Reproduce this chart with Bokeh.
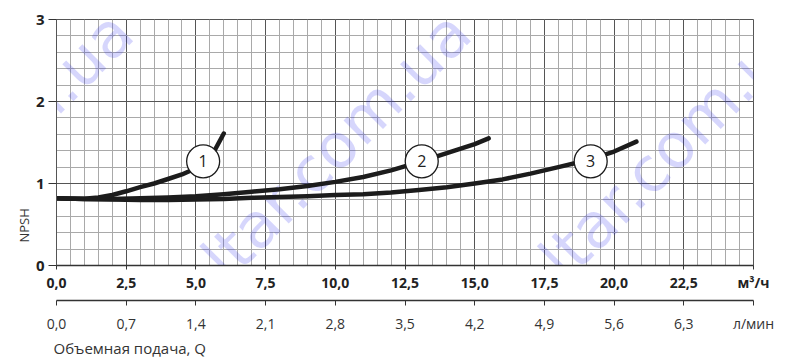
from bokeh.plotting import figure
from bokeh.models import Range1d, LinearAxis, FixedTicker, Label, Title
from bokeh.core.properties import value
from bokeh.embed import file_html
from bokeh.resources import INLINE
import numpy as np

# NPSH (m) against volume flow Q (m³/h) for the three pump sizes
q1 = [0, 0.5, 1, 1.5, 2, 2.5, 3, 3.5, 4, 4.5, 4.8, 5.3, 5.7, 6.0]
npsh1 = [0.82, 0.815, 0.815, 0.83, 0.86, 0.905, 0.955, 1.0, 1.055, 1.11,
         1.155, 1.26, 1.42, 1.61]

q2 = [0, 1, 2, 3, 4, 5, 6, 7, 8, 9, 10, 11, 12, 13, 14, 15, 15.5]
npsh2 = [0.82, 0.81, 0.81, 0.82, 0.83, 0.845, 0.87, 0.90, 0.93, 0.97,
         1.02, 1.08, 1.16, 1.26, 1.37, 1.48, 1.55]

q3 = [0, 1, 2, 3, 4, 5, 6, 7, 8, 9, 10, 11, 12, 13, 14, 15, 16, 17, 18,
      19, 20, 20.8]
npsh3 = [0.82, 0.81, 0.805, 0.80, 0.80, 0.805, 0.81, 0.825, 0.835, 0.845,
         0.86, 0.87, 0.89, 0.92, 0.955, 1.0, 1.05, 1.12, 1.20, 1.28, 1.39,
         1.51]

# numbered curve tags
curve_ids = ["1", "2", "3"]
tag_q = [5.26, 13.1, 19.16]
tag_npsh = [1.27, 1.27, 1.27]

# axis ticks and their labels
flow_ticks = [0, 2.5, 5.0, 7.5, 10.0, 12.5, 15.0, 17.5, 20.0, 22.5, 25.0]
flow_labels = ["0,0", "2,5", "5,0", "7,5", "10,0", "12,5", "15,0", "17,5",
               "20,0", "22,5", "м³/ч"]
lpm_ticks = [0, 0.7, 1.4, 2.1, 2.8, 3.5, 4.2, 4.9, 5.6, 6.3, 7.0]
lpm_labels = ["0,0", "0,7", "1,4", "2,1", "2,8", "3,5", "4,2", "4,9", "5,6",
              "6,3", "л/мин"]
npsh_ticks = [0, 1, 2, 3]
npsh_labels = ["0", "1", "2", "3"]

FONT = "Open Sans"
INK = "#1c1c1c"

p = figure(width=791, height=357, output_backend="svg", toolbar_location=None,
           x_range=Range1d(0, 25), y_range=Range1d(0, 3),
           min_border_left=56, min_border_right=38, min_border_top=19,
           min_border_bottom=91, background_fill_color="white",
           border_fill_color="white")
p.outline_line_color = "#555555"
p.outline_line_width = 1

# main flow axis (m³/h)
xa = p.xaxis[0]
xa.ticker = FixedTicker(ticks=flow_ticks,
                        minor_ticks=list(np.arange(0, 25.01, 0.5)))
xa.major_label_overrides = dict(zip(flow_ticks, flow_labels))
xa.major_label_text_font = FONT
xa.major_label_text_font_style = "bold"
xa.major_label_text_font_size = "14px"
xa.major_label_text_color = "#222222"
xa.major_label_standoff = 3
xa.major_tick_in = 0
xa.major_tick_out = 4
xa.minor_tick_line_color = None
xa.axis_line_color = "#333333"
xa.axis_line_width = 1.5
xa.major_tick_line_color = "#333333"
xa.axis_label = " "
xa.axis_label_text_font_size = "3px"
xa.axis_label_standoff = 0

# secondary flow axis (л/мин)
p.extra_x_ranges = {"lpm": Range1d(0, 7)}
xb = LinearAxis(x_range_name="lpm",
                ticker=FixedTicker(ticks=lpm_ticks))
xb.major_label_overrides = dict(zip(lpm_ticks, lpm_labels))
xb.major_label_text_font = FONT
xb.major_label_text_font_size = "14px"
xb.major_label_text_color = "#333333"
xb.major_label_standoff = 8
xb.major_tick_in = 0
xb.major_tick_out = 5
xb.minor_tick_line_color = None
xb.axis_line_color = "#333333"
xb.axis_line_width = 1.5
xb.major_tick_line_color = "#333333"
p.add_layout(xb, "below")

# NPSH axis
ya = p.yaxis[0]
ya.ticker = FixedTicker(ticks=npsh_ticks,
                        minor_ticks=list(np.arange(0, 3.01, 0.2)))
ya.major_label_overrides = dict(zip(npsh_ticks, npsh_labels))
ya.major_label_text_font = FONT
ya.major_label_text_font_style = "bold"
ya.major_label_text_font_size = "15px"
ya.major_label_text_color = "#222222"
ya.major_label_standoff = 4
ya.major_tick_in = 0
ya.major_tick_out = 8
ya.minor_tick_line_color = None
ya.axis_line_color = "#555555"
ya.major_tick_line_color = "#333333"

# graph-paper grid
for g in (p.xgrid[0], p.ygrid[0]):
    g.grid_line_color = "#555555"
    g.grid_line_width = 1
    g.minor_grid_line_color = "#a9a9a9"
    g.minor_grid_line_width = 1

# faint site name across the sheet
for wx in (-8.38, 3.73, 15.84):
    p.add_layout(Label(x=wx, y=-0.68, text="voltar.com.ua", angle=45,
                       angle_units="deg", text_font="DejaVu Sans",
                       text_font_size="62px", text_color="#1a1aee",
                       text_alpha=0.18, text_baseline="alphabetic",
                       text_align="left", level="underlay"))

# curves
for qs, hs in ((q1, npsh1), (q2, npsh2), (q3, npsh3)):
    p.line(qs, hs, line_width=4.5, line_color=INK, line_join="round",
           line_cap="round")

# curve tags
p.scatter(tag_q, tag_npsh, size=33, fill_color="white", line_color=INK,
          line_width=1.3)
p.text(tag_q, tag_npsh, text=curve_ids, text_font=value(FONT),
       text_font_size="16px", text_color="#222222", text_align="center",
       text_baseline="middle")

# axis titles
p.add_layout(Title(text="NPSH", align="left", offset=23, standoff=0,
                   text_font=FONT, text_font_size="13px",
                   text_font_style="normal", text_color="#333333"), "left")
p.add_layout(Title(text="Объемная подача, Q", align="left", offset=-3,
                   standoff=0, text_font=FONT, text_font_size="15px",
                   text_font_style="normal", text_color="#333333"), "below")

open("out.html", "w").write(file_html(p, INLINE))
